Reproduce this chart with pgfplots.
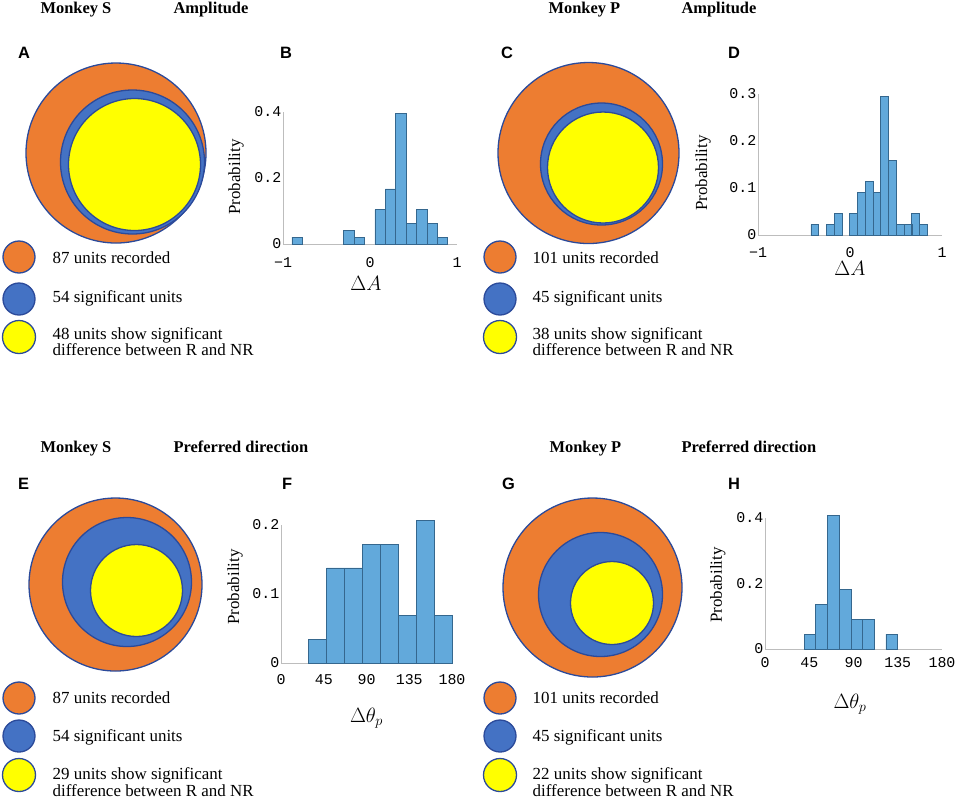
\documentclass[border=0pt]{standalone}
\usepackage{fontspec}
\setmainfont{Liberation Serif}
\setsansfont{Liberation Sans}
\setmonofont{Liberation Mono}
\usepackage{pgfplots}
\pgfplotsset{compat=1.18}

\definecolor{vorange}{HTML}{ED7D31}
\definecolor{vblue}{HTML}{4472C4}
\definecolor{vyellow}{HTML}{FFFF00}
\definecolor{vedge}{HTML}{2B4A9A}
\definecolor{barfill}{HTML}{62A9DB}
\definecolor{baredge}{HTML}{35678E}
\definecolor{axgray}{HTML}{BDBDBD}

\newcommand{\hdr}{\fontsize{16.5}{18}\selectfont\bfseries}
\newcommand{\plet}{\fontsize{16.5}{18}\sffamily\bfseries}
\newcommand{\legf}{\fontsize{17}{18}\selectfont}

\tikzset{leg/.style={anchor=base west, font=\legf, inner sep=0.5bp}}

\pgfplotsset{
  ven/.style n args={2}{only marks, mark=*, mark size=#2,
    mark options={fill=#1, draw=vedge, line width=1.3bp}},
  hbar/.style={fill=barfill, draw=baredge, line width=0.7bp},
  hist/.style={
    scale only axis, anchor=south west, clip=false,
    axis x line*=bottom, axis y line*=left,
    axis line style={draw=axgray, line width=0.9bp, -},
    major tick length=0pt,
    ybar, bar shift=0pt, ymin=0,
    tick label style={font=\fontsize{15}{16}\ttfamily},
    yticklabel style={inner xsep=1.5bp},
    xticklabel style={anchor=base},
    ylabel={Probability},
    ylabel style={font=\fontsize{17}{18}\selectfont, anchor=center},
    xlabel style={font=\fontsize{22}{24}\selectfont, anchor=base},
  },
}

\begin{document}
\begin{tikzpicture}
\useasboundingbox (0,0) rectangle (957bp,-798bp);

% Venn diagrams, legends and headings, in pixel coordinates
\begin{axis}[scale only axis, width=957bp, height=798bp, at={(0,0)}, anchor=north west,
  xmin=0, xmax=957, ymin=0, ymax=798, y dir=reverse, hide axis, clip=false]
% A
\addplot[ven={vorange}{90bp}] coordinates {(116,153)};
\addplot[ven={vblue}{72bp}] coordinates {(132.5,162)};
\addplot[ven={vyellow}{66bp}] coordinates {(134.5,164.5)};
% C
\addplot[ven={vorange}{90.5bp}] coordinates {(588.5,153)};
\addplot[ven={vblue}{61bp}] coordinates {(601.5,164)};
\addplot[ven={vyellow}{55.5bp}] coordinates {(603,167.5)};
% E
\addplot[ven={vorange}{86.5bp}] coordinates {(115.5,584.5)};
\addplot[ven={vblue}{64.5bp}] coordinates {(127,582)};
\addplot[ven={vyellow}{46bp}] coordinates {(136.5,590.5)};
% G
\addplot[ven={vorange}{89.5bp}] coordinates {(592.5,587.5)};
\addplot[ven={vblue}{62bp}] coordinates {(600.5,594.5)};
\addplot[ven={vyellow}{41.5bp}] coordinates {(612,603)};

% legend circles
\addplot[ven={vorange}{16bp}] coordinates {(19,257) (500,257) (19,698) (500,698)};
\addplot[ven={vblue}{16bp}] coordinates {(19,299) (500,299) (19,736) (500,736)};
\addplot[ven={vyellow}{16.5bp}] coordinates {(19,337) (500,337) (19,775) (500,775)};

% legend texts
\node[leg] at (axis cs:52,263) {87 units recorded};
\node[leg] at (axis cs:52,302) {54 significant units};
\node[leg] at (axis cs:52,339) {48 units show significant};
\node[leg] at (axis cs:52,355) {difference between R and NR};
\node[leg] at (axis cs:532,263) {101 units recorded};
\node[leg] at (axis cs:532,302) {45 significant units};
\node[leg] at (axis cs:532,339) {38 units show significant};
\node[leg] at (axis cs:532,355) {difference between R and NR};
\node[leg] at (axis cs:52,703) {87 units recorded};
\node[leg] at (axis cs:52,741) {54 significant units};
\node[leg] at (axis cs:52,779) {29 units show significant};
\node[leg] at (axis cs:52,796) {difference between R and NR};
\node[leg] at (axis cs:532,703) {101 units recorded};
\node[leg] at (axis cs:532,741) {45 significant units};
\node[leg] at (axis cs:532,779) {22 units show significant};
\node[leg] at (axis cs:532,796) {difference between R and NR};

% headings
\node[anchor=base west, font=\hdr] at (axis cs:37,13.5) {Monkey S};
\node[anchor=base west, font=\hdr] at (axis cs:170,13.5) {Amplitude};
\node[anchor=base west, font=\hdr] at (axis cs:545,13.5) {Monkey P};
\node[anchor=base west, font=\hdr] at (axis cs:678,13.5) {Amplitude};
\node[anchor=base west, font=\hdr] at (axis cs:37,452) {Monkey S};
\node[anchor=base west, font=\hdr] at (axis cs:170,452) {Preferred direction};
\node[anchor=base west, font=\hdr] at (axis cs:546,452) {Monkey P};
\node[anchor=base west, font=\hdr] at (axis cs:678,452) {Preferred direction};

% panel letters
\node[anchor=base west, font=\plet, inner sep=0pt] at (axis cs:18,58.5) {A};
\node[anchor=base west, font=\plet, inner sep=0pt] at (axis cs:280,58.5) {B};
\node[anchor=base west, font=\plet, inner sep=0pt] at (axis cs:501,58.5) {C};
\node[anchor=base west, font=\plet, inner sep=0pt] at (axis cs:728,58.5) {D};
\node[anchor=base west, font=\plet, inner sep=0pt] at (axis cs:18,489) {E};
\node[anchor=base west, font=\plet, inner sep=0pt] at (axis cs:282,489) {F};
\node[anchor=base west, font=\plet, inner sep=0pt] at (axis cs:502,489) {G};
\node[anchor=base west, font=\plet, inner sep=0pt] at (axis cs:728,489) {H};
\end{axis}

% B: Monkey S amplitude
\begin{axis}[hist, at={(283bp,-244bp)}, width=174bp, height=132bp,
  xmin=-1, xmax=1, ymax=0.4, bar width=0.1194,
  xtick={-1,0,1}, xticklabels={−1,0,1},
  ytick={0,0.2,0.4}, yticklabels={0,0.2,0.4},
  xticklabel style={yshift=-23bp},
  xlabel={$\Delta A$},
  xlabel style={at={(axis description cs:0.477,-0.352)}},
  ylabel style={at={(axis description cs:-0.270,0.508)}}]
\addplot[hbar] coordinates {(-0.838,0.0208) (-0.241,0.0417) (-0.121,0.0208) (0.117,0.1042)
  (0.237,0.1667) (0.356,0.3958) (0.476,0.0625) (0.595,0.1042) (0.714,0.0625) (0.834,0.0208)};
\end{axis}

% D: Monkey P amplitude
\begin{axis}[hist, at={(758bp,-235bp)}, width=184bp, height=141bp,
  xmin=-1, xmax=1, ymax=0.3, bar width=0.0844,
  xtick={-1,0,1}, xticklabels={−1,0,1},
  ytick={0,0.1,0.2,0.3}, yticklabels={0,0.1,0.2,0.3},
  xticklabel style={yshift=-22bp},
  xlabel={$\Delta A$},
  xlabel style={at={(axis description cs:0.5,-0.287)}},
  ylabel style={at={(axis description cs:-0.299,0.44)}}]
\addplot[hbar] coordinates {(-0.383,0.0227) (-0.215,0.0227) (-0.130,0.0455) (0.039,0.0455)
  (0.123,0.0909) (0.208,0.1136) (0.292,0.0909) (0.376,0.2955) (0.461,0.1591)
  (0.545,0.0227) (0.630,0.0227) (0.714,0.0455) (0.798,0.0227)};
\end{axis}

% F: Monkey S preferred direction
\begin{axis}[hist, at={(281bp,-663bp)}, width=171bp, height=138bp,
  xmin=0, xmax=180, ymax=0.2, bar width=18.84,
  xtick={0,45,90,135,180}, xticklabels={0,45,90,135,180},
  ytick={0,0.1,0.2}, yticklabels={0,0.1,0.2},
  xticklabel style={yshift=-21bp},
  xlabel={$\Delta\theta_p$},
  xlabel style={at={(axis description cs:0.5,-0.431)}},
  ylabel style={at={(axis description cs:-0.269,0.551)}}]
\addplot[hbar] coordinates {(38.72,0.0345) (57.56,0.1379) (76.40,0.1379) (95.24,0.1724)
  (114.08,0.1724) (132.92,0.0690) (151.76,0.2069) (170.60,0.0690)};
\end{axis}

% H: Monkey P preferred direction
\begin{axis}[hist, at={(765bp,-649bp)}, width=177bp, height=131bp,
  xmin=0, xmax=180, ymax=0.4, bar width=11.9,
  xtick={0,45,90,135,180}, xticklabels={0,45,90,135,180},
  ytick={0,0.2,0.4}, yticklabels={0,0.2,0.4},
  xticklabel style={yshift=-18.5bp},
  xlabel={$\Delta\theta_p$},
  xlabel style={at={(axis description cs:0.48,-0.454)}},
  ylabel style={at={(axis description cs:-0.266,0.489)}}]
\addplot[hbar] coordinates {(45.65,0.0455) (57.55,0.1364) (69.45,0.4091) (81.35,0.1818)
  (93.25,0.0909) (105.15,0.0909) (128.95,0.0455)};
\end{axis}
\end{tikzpicture}
\end{document}
